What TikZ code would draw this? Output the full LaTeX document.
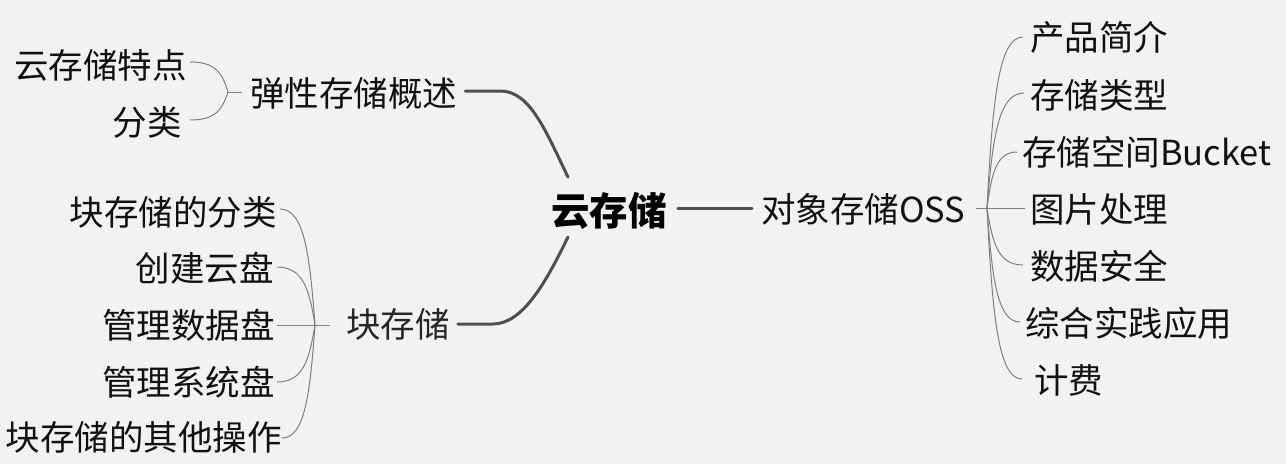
\documentclass[tikz,border=0pt]{standalone}
\usepackage{fontspec}
\setmainfont{Noto Sans CJK SC}
\usetikzlibrary{calc}
\definecolor{bg}{HTML}{F2F2F2}
\definecolor{mainline}{HTML}{4F4F4F}
\definecolor{subline}{HTML}{808080}
\definecolor{txt}{HTML}{111111}
\tikzset{
  mmtext/.style={inner sep=0pt, text=txt, font=\fontsize{34.5}{40}\selectfont},
  roottext/.style={inner sep=0pt, text=black, font=\fontsize{38.5}{44}\selectfont\bfseries},
  thickline/.style={draw=mainline, line width=3pt, line cap=round},
  thinline/.style={draw=subline, line width=1pt},
}
\newcommand\mmcurve[2]{\draw[thinline] let \p1=(#1), \p2=(#2) in (\p1) .. controls ({\x1+0.15*(\x2-\x1)},{\y1+0.6*(\y2-\y1)}) and ({\x1+0.3*(\x2-\x1)},\y2) .. (\p2);}
\begin{document}
\begin{tikzpicture}[x=1pt,y=-1pt]
\fill[bg] (0,0) rectangle (1286,464);
\useasboundingbox (0,0) rectangle (1286,464);

% root and level 1
\node[roottext] (root) at (609,211) {云存储};
\node[mmtext, anchor=west] (oss) at (761,209) {对象存储OSS};
\node[mmtext, anchor=west] (elastic) at (250,93) {弹性存储概述};
\node[mmtext, anchor=west, text=black!85] (block) at (346,324) {块存储};

% right children
\node[mmtext, anchor=west] (r1) at (1030,37) {产品简介};
\node[mmtext, anchor=west] (r2) at (1030,95) {存储类型};
\node[mmtext, anchor=west] (r3) at (1022,152) {存储空间Bucket};
\node[mmtext, anchor=west] (r4) at (1030,209) {图片处理};
\node[mmtext, anchor=west] (r5) at (1030,266) {数据安全};
\node[mmtext, anchor=west] (r6) at (1025,323) {综合实践应用};
\node[mmtext, anchor=west] (r7) at (1034,380) {计费};

% left top children
\node[mmtext, anchor=east] (a1) at (187,65) {云存储特点};
\node[mmtext, anchor=east] (a2) at (182,122) {分类};

% left bottom children
\node[mmtext, anchor=east] (b1) at (277,212) {块存储的分类};
\node[mmtext, anchor=east] (b2) at (274,268) {创建云盘};
\node[mmtext, anchor=east] (b3) at (275,325) {管理数据盘};
\node[mmtext, anchor=east] (b4) at (275,382) {管理系统盘};
\node[mmtext, anchor=east] (b5) at (282,437) {块存储的其他操作};

% branch points
\coordinate (bo) at (987,208);
\coordinate (be) at (228,92);
\coordinate (bb) at (315,325);
\coordinate (rt) at ([shift={(-41,-34)}]root.center);
\coordinate (rb) at ([shift={(-41,26)}]root.center);

% main connectors
\draw[thickline] ([xshift=11]root.east |- 0,208) -- ([xshift=-9]oss.west |- 0,208);
\draw[thickline] ([xshift=8]elastic.east |- 0,91) -- +(35,0) .. controls +(30,0) and ($(rt)+(-22,-45)$) .. (rt);
\draw[thickline] ([xshift=8]block.east |- 0,324) -- +(35,0) .. controls +(30,0) and ($(rb)+(-22,45)$) .. (rb);

% oss branch
\draw[thinline] ([xshift=10]oss.east |- 0,208) -- (bo);
\mmcurve{bo}{[xshift=-7]r1.west}
\mmcurve{bo}{[xshift=-6]r2.west |- 0,93}
\mmcurve{bo}{[xshift=-5]r3.west}
\draw[thinline] (bo) -- ([xshift=-5]r4.west |- bo);
\mmcurve{bo}{[xshift=-7]r5.west |- 0,265}
\mmcurve{bo}{[xshift=-5]r6.west |- 0,322}
\mmcurve{bo}{[xshift=-12]r7.west |- 0,379}

% elastic branch
\draw[thinline] ([xshift=-8]elastic.west |- be) -- (be);
\mmcurve{be}{[xshift=3]a1.east |- 0,62}
\mmcurve{be}{[xshift=8]a2.east |- 0,120}

% block branch
\draw[thinline] ([xshift=-16]block.west |- bb) -- (bb);
\mmcurve{bb}{[xshift=3]b1.east |- 0,209}
\mmcurve{bb}{[xshift=3]b2.east |- 0,267}
\draw[thinline] (bb) -- ([xshift=2]b3.east |- bb);
\mmcurve{bb}{[xshift=2]b4.east |- 0,382}
\mmcurve{bb}{[xshift=0]b5.east |- 0,438}
\end{tikzpicture}
\end{document}
